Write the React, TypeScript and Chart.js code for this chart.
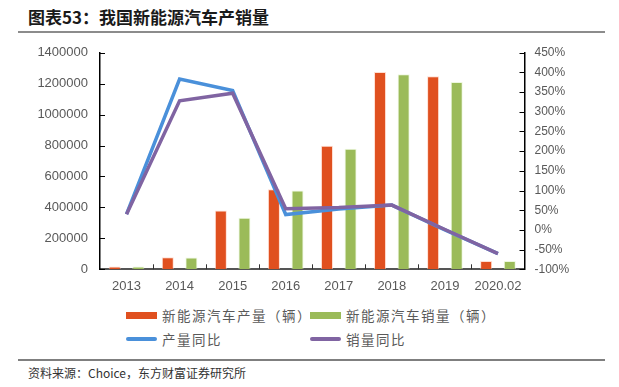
import React, { useEffect, useRef } from 'react';
import { Chart, registerables } from 'chart.js';

Chart.register(...registerables);

const categories = ['2013', '2014', '2015', '2016', '2017', '2018', '2019', '2020.02'];
const production = [17500, 78500, 380000, 518000, 798000, 1275000, 1247000, 53500];
const sales = [17600, 76000, 333000, 510000, 779000, 1260000, 1211000, 53000];
const productionYoY = [40, 383, 354, 39, 53, 63, 0, -60];
const salesYoY = [40, 328, 347, 54, 57, 63, 1, -60];

const leftTicks = { min: 0, max: 1400000, step: 200000 };
const rightTicks = { min: -100, max: 450, step: 50 };

const titleText = '图表53：我国新能源汽车产销量';
const sourceText = '资料来源：Choice，东方财富证券研究所';
const legendLabels = ['新能源汽车产量（辆）', '新能源汽车销量（辆）', '产量同比', '销量同比'];

const RED = '#E0501F';
const GREEN = '#9BBB59';
const BLUE = '#4A90DA';
const PURPLE = '#8064A2';
const TICK_GRAY = '#595959';

const W = 619;
const CH = 300;
const AREA = { left: 100, right: 524.5, top: 52.7, bottom: 269.3 };

const tickPlugin = {
  id: 'inwardTicks',
  afterDraw(chart: any) {
    const ctx = chart.ctx;
    const { x, y, y1 } = chart.scales;
    const area = chart.chartArea;
    ctx.save();
    ctx.strokeStyle = '#000';
    ctx.lineWidth = 1;
    y.ticks.forEach((t: any) => {
      const py = Math.round(y.getPixelForValue(t.value)) + 0.5;
      ctx.beginPath();
      ctx.moveTo(area.left, py);
      ctx.lineTo(area.left + 5, py);
      ctx.stroke();
    });
    y1.ticks.forEach((t: any) => {
      const py = Math.round(y1.getPixelForValue(t.value)) + 0.5;
      ctx.beginPath();
      ctx.moveTo(area.right - 5, py);
      ctx.lineTo(area.right, py);
      ctx.stroke();
    });
    ctx.strokeStyle = '#333';
    for (let i = 1; i < categories.length; i++) {
      const px = Math.round((x.getPixelForValue(i - 1) + x.getPixelForValue(i)) / 2) + 0.5;
      ctx.beginPath();
      ctx.moveTo(px, area.bottom - 5);
      ctx.lineTo(px, area.bottom);
      ctx.stroke();
    }
    ctx.restore();
  },
};

function LegendItem({ left, top, color, label, kind }: any) {
  const marker: any =
    kind === 'bar'
      ? { position: 'absolute', left: 0, top: -3.5, width: 31, height: 7, background: color }
      : { position: 'absolute', left: 0, top: -2, width: 31, height: 4, background: color, borderRadius: 2 };
  return (
    <div style={{ position: 'absolute', left, top, height: 0 }}>
      <div style={marker} />
      <div
        style={{
          position: 'absolute',
          left: 36,
          top: -9,
          whiteSpace: 'nowrap',
          fontFamily: '"Noto Sans CJK SC", sans-serif',
          fontSize: 13.5,
          lineHeight: '18px',
          letterSpacing: '1.5px',
          color: TICK_GRAY,
        }}
      >
        {label}
      </div>
    </div>
  );
}

export default function App() {
  const ref = useRef<HTMLCanvasElement | null>(null);

  useEffect(() => {
    if (!ref.current) return;
    const chart = new Chart(ref.current, {
      type: 'bar',
      data: {
        labels: categories,
        datasets: [
          {
            type: 'line',
            label: legendLabels[3],
            data: salesYoY,
            yAxisID: 'y1',
            borderColor: PURPLE,
            backgroundColor: PURPLE,
            borderWidth: 3.5,
            pointRadius: 0,
            tension: 0,
            order: 0,
          },
          {
            type: 'line',
            label: legendLabels[2],
            data: productionYoY,
            yAxisID: 'y1',
            borderColor: BLUE,
            backgroundColor: BLUE,
            borderWidth: 3.5,
            pointRadius: 0,
            tension: 0,
            order: 1,
          },
          {
            type: 'bar',
            label: legendLabels[0],
            data: production,
            yAxisID: 'y',
            backgroundColor: RED,
            borderColor: 'rgba(255,200,180,0.6)',
            borderWidth: 1,
            categoryPercentage: 0.89,
            barPercentage: 0.51,
            order: 2,
          },
          {
            type: 'bar',
            label: legendLabels[1],
            data: sales,
            yAxisID: 'y',
            backgroundColor: GREEN,
            borderColor: 'rgba(230,245,210,0.7)',
            borderWidth: 1,
            categoryPercentage: 0.89,
            barPercentage: 0.51,
            order: 3,
          },
        ],
      } as any,
      options: {
        responsive: false,
        animation: false,
        devicePixelRatio: 1,
        layout: { padding: { top: AREA.top, left: 0, right: 0, bottom: 0 } },
        plugins: { legend: { display: false }, tooltip: { enabled: false } },
        scales: {
          x: {
            z: 1,
            grid: { display: false, drawTicks: false },
            border: { display: true, color: '#555', width: 2 },
            ticks: {
              color: TICK_GRAY,
              padding: 9,
              font: { family: '"Liberation Sans", Arial, sans-serif', size: 13 },
              maxRotation: 0,
              autoSkip: false,
            },
            afterFit(scale: any) {
              scale.height = CH - AREA.bottom;
            },
          },
          y: {
            position: 'left',
            min: leftTicks.min,
            max: leftTicks.max,
            grid: { display: false, drawTicks: false },
            border: { display: true, color: '#000', width: 1.5 },
            ticks: {
              stepSize: leftTicks.step,
              color: TICK_GRAY,
              padding: 12,
              font: { family: '"Liberation Sans", Arial, sans-serif', size: 13 },
              callback: (v: any) => String(v),
            },
            afterFit(scale: any) {
              scale.width = AREA.left;
            },
          },
          y1: {
            position: 'right',
            min: rightTicks.min,
            max: rightTicks.max,
            grid: { display: false, drawTicks: false },
            border: { display: true, color: '#000', width: 1.5 },
            ticks: {
              stepSize: rightTicks.step,
              color: TICK_GRAY,
              padding: 10,
              font: { family: '"Liberation Sans", Arial, sans-serif', size: 12 },
              callback: (v: any) => v + '%',
            },
            afterFit(scale: any) {
              scale.width = W - AREA.right;
            },
          },
        },
      },
      plugins: [tickPlugin],
    });
    return () => chart.destroy();
  }, []);

  return (
    <div style={{ position: 'absolute', left: 0, top: 0, width: W, height: 387, background: '#fff', overflow: 'hidden' }}>
      <div
        style={{
          position: 'absolute',
          left: 28,
          top: 7,
          whiteSpace: 'nowrap',
          fontFamily: '"Noto Sans CJK SC", sans-serif',
          fontWeight: 'bold',
          fontSize: 17,
          lineHeight: '20px',
          color: '#1a1a1a',
        }}
      >
        {titleText}
      </div>
      <div style={{ position: 'absolute', left: 18, top: 31, width: 587, height: 2, background: '#8c8c8c' }} />
      <canvas ref={ref} width={W} height={CH} style={{ position: 'absolute', left: 0, top: 0, width: W, height: CH }} />
      <LegendItem left={126} top={315} color={RED} label={legendLabels[0]} kind="bar" />
      <LegendItem left={310} top={315} color={GREEN} label={legendLabels[1]} kind="bar" />
      <LegendItem left={126} top={339} color={BLUE} label={legendLabels[2]} kind="line" />
      <LegendItem left={310} top={339} color={PURPLE} label={legendLabels[3]} kind="line" />
      <div style={{ position: 'absolute', left: 18, top: 359, width: 587, height: 2, background: '#7f7f7f' }} />
      <div
        style={{
          position: 'absolute',
          left: 28,
          top: 365,
          whiteSpace: 'nowrap',
          fontFamily: '"Noto Sans CJK SC", sans-serif',
          fontSize: 12,
          lineHeight: '16px',
          color: '#333',
        }}
      >
        {sourceText}
      </div>
    </div>
  );
}
